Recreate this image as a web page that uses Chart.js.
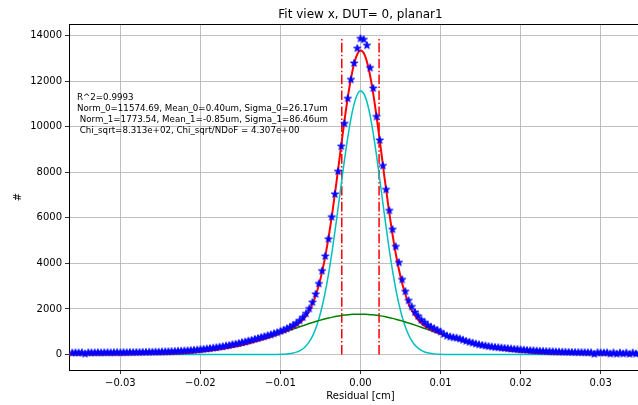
<!DOCTYPE html>
<html>
<head>
<meta charset="utf-8">
<script src="https://cdn.jsdelivr.net/npm/chart.js@4.4.0/dist/chart.umd.min.js"></script>
<style>
  html, body { margin: 0; padding: 0; background: #fff; }
  #wrap { width: 638px; height: 405px; overflow: hidden; }
  canvas { display: block; }
</style>
</head>
<body>
<div id="wrap"><canvas id="fitChart" width="660" height="405"></canvas></div>
<script>
// residual bin centres in um, counts per bin
const binX = [-360,-356,-352,-348,-344,-340,-336,-332,-328,-324,-320,-316,-312,-308,-304,-300,-296,-292,-288,-284,-280,-276,-272,-268,-264,-260,-256,-252,-248,-244,-240,-236,-232,-228,-224,-220,-216,-212,-208,-204,-200,-196,-192,-188,-184,-180,-176,-172,-168,-164,-160,-156,-152,-148,-144,-140,-136,-132,-128,-124,-120,-116,-112,-108,-104,-100,-96,-92,-88,-84,-80,-76,-72,-68,-64,-60,-56,-52,-48,-44,-40,-36,-32,-28,-24,-20,-16,-12,-8,-4,0,4,8,12,16,20,24,28,32,36,40,44,48,52,56,60,64,68,72,76,80,84,88,92,96,100,104,108,112,116,120,124,128,132,136,140,144,148,152,156,160,164,168,172,176,180,184,188,192,196,200,204,208,212,216,220,224,228,232,236,240,244,248,252,256,260,264,268,272,276,280,284,288,292,296,300,304,308,312,316,320,324,328,332,336,340,344,348,352,356,360];
const binCounts = [85,92,88,96,40,94,90,91,97,89,95,100,93,98,102,96,104,99,108,103,110,106,115,112,120,118,126,122,132,136,140,147,153,160,166,175,182,194,205,216,232,245,262,280,300,318,342,365,392,415,448,470,505,540,568,610,640,685,720,765,800,845,880,930,975,1030,1085,1150,1215,1300,1390,1500,1640,1810,2020,2300,2660,3120,3680,4330,5080,6050,7050,8050,9150,10150,11250,12080,12800,13450,13880,13840,13580,12600,11700,10450,9420,8300,7250,6330,5500,4750,4050,3300,2780,2380,2110,1870,1700,1530,1420,1300,1220,1150,1080,1010,900,830,790,760,740,700,650,600,560,520,480,445,420,395,370,350,330,320,305,290,275,262,250,238,225,212,200,190,182,172,165,158,150,145,138,132,128,122,118,114,110,107,104,100,98,96,94,30,95,90,88,92,40,89,35,87,45,85,30,83,40,80,84,79,81];

// fitted curves, sampled in um
const curveX = [-364,-340,-320,-300,-280,-260,-240,-220,-200,-180,-160,-140,-120,-110,-105,-100,-95,-90,-85,-80,-75,-70,-65,-60,-55,-50,-45,-40,-35,-30,-25,-20,-15,-10,-5,0,5,10,15,20,25,30,35,40,45,50,55,60,65,70,75,80,85,90,95,100,105,110,120,140,160,180,200,220,240,260,280,300,320,340,364];
const gaus0 = [0,0,0,0,0,0,0,0,0,0,0,0,0,1.6,3.5,7,15,30,56,103,182,310,510,807,1231,1812,2570,3516,4636,5895,7227,8542,9734,10696,11331,11573,11398,10821,9907,8744,7441,6105,4830,3684,2709,1921,1313,865,550,337,199,113,62,33,17,8,4,1.8,0,0,0,0,0,0,0,0,0,0,0,0,0];
const gaus1 = [0.3,0.8,2,4.5,9.7,19.9,38.7,71.4,124.9,207,326,486,686,799,859,919,980,1042,1105,1166,1228,1288,1347,1403,1458,1509,1557,1601,1641,1675,1706,1731,1750,1764,1772,1773,1769,1760,1744,1723,1696,1664,1627,1586,1541,1492,1440,1384,1327,1268,1207,1145,1083,1021,959,898,838,780,668,470,314,199,119,68,36.6,18.7,9.1,4.2,1.8,0.75,0.3];
const fitSum = [0.3,0.8,2,4.5,9.7,19.9,38.7,71.4,124.9,207,326,486,686,801,862,926,995,1072,1161,1269,1410,1598,1857,2210,2689,3321,4127,5117,6277,7570,8933,10273,11484,12460,13103,13346,13167,12581,11651,10467,9137,7769,6457,5270,4250,3413,2753,2249,1877,1605,1406,1258,1145,1054,976,906,842,782,668,470,314,199,119,68,36.6,18.7,9.1,4.2,1.8,0.75,0.3];

// dash-dot markers [cm] and their height
const markX = [-0.00234, 0.00232];
const markTop = 13850;

const xTicks = [-0.03, -0.02, -0.01, 0, 0.01, 0.02, 0.03];
const yTicks = [0, 2000, 4000, 6000, 8000, 10000, 12000, 14000];

const fitText = [
  "R^2=0.9993",
  "Norm_0=11574.69, Mean_0=0.40um, Sigma_0=26.17um",
  " Norm_1=1773.54, Mean_1=-0.85um, Sigma_1=86.46um",
  " Chi_sqrt=8.313e+02, Chi_sqrt/NDoF = 4.307e+00"
];

const FONT = "'DejaVu Sans', sans-serif";
const toPts = (xs, ys) => xs.map((x, i) => ({ x: x / 10000, y: ys[i] }));

function starImage(color) {
  const c = document.createElement("canvas");
  c.width = c.height = 10;
  const g = c.getContext("2d");
  const R = 3.8, r = R * 0.382;
  g.beginPath();
  for (let i = 0; i < 10; i++) {
    const a = -Math.PI / 2 + i * Math.PI / 5;
    const rad = i % 2 ? r : R;
    g.lineTo(5 + rad * Math.cos(a), 5.3 + rad * Math.sin(a));
  }
  g.closePath();
  g.fillStyle = color;
  g.fill();
  g.strokeStyle = color;
  g.lineWidth = 1;
  g.stroke();
  return c;
}

const lineSet = (label, data, color, width) => ({
  label, data, borderColor: color, borderWidth: width,
  pointRadius: 0, showLine: true, fill: false,
  cubicInterpolationMode: "monotone"
});

const datasets = [
  {
    label: "data", data: toPts(binX, binCounts), showLine: false,
    pointStyle: starImage("#0000ff"), pointRadius: 5
  },
  lineSet("fit", toPts(curveX, fitSum), "#ff0000", 2),
  lineSet("gaus_1", toPts(curveX, gaus1), "#008000", 1.5),
  lineSet("gaus_0", toPts(curveX, gaus0), "#00bfbf", 1.5)
];
markX.forEach(x => {
  datasets.push({
    label: "mark", data: [{ x, y: 0 }, { x, y: markTop }],
    borderColor: "#ff0000", borderWidth: 1.5, borderDash: [9.6, 2.4, 1.5, 2.4],
    pointRadius: 0, showLine: true
  });
});

const decor = {
  id: "decor",
  afterDatasetsDraw(chart) {
    const { ctx, chartArea: a } = chart;
    ctx.save();
    ctx.strokeStyle = "#000";
    ctx.lineWidth = 1;
    ctx.beginPath();
    ctx.moveTo(a.left, a.top + 0.5);
    ctx.lineTo(a.right, a.top + 0.5);
    ctx.lineTo(a.right, a.bottom);
    ctx.stroke();

    ctx.fillStyle = "#000";
    ctx.textAlign = "center";
    ctx.textBaseline = "alphabetic";
    ctx.font = "12px " + FONT;
    ctx.fillText("Fit view x, DUT= 0, planar1", (a.left + a.right) / 2, a.top - 6);

    ctx.textAlign = "left";
    ctx.font = "8.7px " + FONT;
    fitText.forEach((t, i) => ctx.fillText(t, a.left + 8, a.top + 75.5 + i * 11.3));
    ctx.restore();
  }
};

new Chart(document.getElementById("fitChart"), {
  type: "scatter",
  data: { datasets },
  options: {
    responsive: false,
    animation: false,
    layout: { padding: { left: 0, right: 8, top: 24, bottom: 0 } },
    plugins: { legend: { display: false }, tooltip: { enabled: false } },
    scales: {
      x: {
        type: "linear", min: -0.03641, max: 0.03641,
        afterFit: s => { s.height = 35; },
        afterBuildTicks: s => { s.ticks = xTicks.map(v => ({ value: v })); },
        grid: { color: "#b0b0b0", lineWidth: 0.8, tickColor: "#000", tickLength: 4 },
        border: { color: "#000", width: 1 },
        ticks: {
          color: "#000", padding: 3, maxRotation: 0, font: { family: FONT, size: 10 },
          callback: v => (v < 0 ? "\u2212" : "") + Math.abs(v).toFixed(2)
        },
        title: { display: true, text: "Residual [cm]", color: "#000", font: { family: FONT, size: 10 }, padding: { top: 0, bottom: 3 } }
      },
      y: {
        min: -680, max: 14510,
        afterFit: s => { s.width = 69; },
        afterBuildTicks: s => { s.ticks = yTicks.map(v => ({ value: v })); },
        grid: { color: "#b0b0b0", lineWidth: 0.8, tickColor: "#000", tickLength: 4 },
        border: { color: "#000", width: 1 },
        ticks: {
          color: "#000", padding: 3, font: { family: FONT, size: 10 },
          callback: v => v.toFixed(0)
        },
        title: { display: true, text: "#", color: "#000", font: { family: FONT, size: 10 }, padding: { top: 12, bottom: 0 } }
      }
    }
  },
  plugins: [decor]
});
</script>
</body>
</html>
